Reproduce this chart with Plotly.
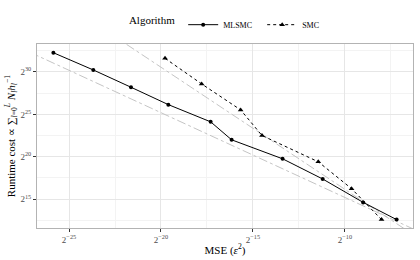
import plotly.graph_objects as go

# log2 values
mlsmc_log2_mse = [-25.85, -23.68, -21.63, -19.60, -17.30, -16.16, -13.39, -11.21, -9.01, -7.19]
mlsmc_log2_cost = [32.27, 30.24, 28.20, 26.15, 24.12, 22.00, 19.76, 17.38, 14.62, 12.59]
smc_log2_mse = [-19.78, -17.79, -15.67, -14.51, -11.45, -9.64, -8.01]
smc_log2_cost = [31.61, 28.59, 25.53, 22.51, 19.41, 16.24, 12.59]

# reference (rate) lines, endpoints in log2 units
refA_x = [-28.0, -5.0]
refA_y = [33.2, 10.2]
refB_x = [-23.5, -5.0]
refB_y = [35.6, 8.96]

xticks = [-25, -20, -15, -10]
yticks = [15, 20, 25, 30]

FONT = "Liberation Serif"
grey = "#bdbdbd"

fig = go.Figure()
fig.add_trace(go.Scatter(x=refA_x, y=refA_y, mode="lines", showlegend=False,
                         line=dict(color=grey, width=0.9, dash="dashdot"), hoverinfo="skip"))
fig.add_trace(go.Scatter(x=refB_x, y=refB_y, mode="lines", showlegend=False,
                         line=dict(color=grey, width=0.9, dash="dashdot"), hoverinfo="skip"))
fig.add_trace(go.Scatter(x=mlsmc_log2_mse, y=mlsmc_log2_cost, mode="lines+markers", name="MLSMC",
                         line=dict(color="black", width=1), marker=dict(symbol="circle", size=4, color="black")))
fig.add_trace(go.Scatter(x=smc_log2_mse, y=smc_log2_cost, mode="lines+markers", name="SMC",
                         line=dict(color="black", width=1, dash="dot"),
                         marker=dict(symbol="triangle-up", size=5, color="black")))

axis_common = dict(showline=True, linecolor="#b3b3b3", linewidth=1, mirror=True,
                   showgrid=True, gridcolor="#e6e6e6", gridwidth=0.6,
                   ticks="outside", ticklen=3, tickcolor="#333333", tickwidth=1,
                   tickfont=dict(family=FONT, size=9, color="#4d4d4d"),
                   zeroline=False, automargin=False,
                   minor=dict(dtick=2.5, tick0=0, showgrid=True, gridcolor="#f3f3f3", gridwidth=0.5, ticks=""))

fig.update_xaxes(**axis_common, range=[-26.74, -6.30], tickvals=xticks,
                 ticktext=[f"2<sup>{t}</sup>".replace("-", "−") for t in xticks],
                 title=dict(text="MSE (<i>ε</i><sup>2</sup>)", font=dict(family=FONT, size=11, color="black"), standoff=2))
fig.update_yaxes(**axis_common, range=[11.6, 33.3], tickvals=yticks,
                 ticktext=[f"2<sup>{t}</sup>" for t in yticks],
                 title=dict(text="Runtime cost ∝ ∑<sub><i>l</i>=0</sub><sup><i>L</i></sup> <i>N</i><sub><i>l</i></sub><i>h</i><sub><i>l</i></sub><sup>−1</sup>",
                            font=dict(family=FONT, size=11, color="black"), standoff=2))

fig.update_layout(
    width=420, height=260,
    margin=dict(l=37, r=7, t=44, b=32, autoexpand=False),
    paper_bgcolor="white", plot_bgcolor="white",
    font=dict(family=FONT, color="black"),
    legend=dict(orientation="h", x=0.525, xanchor="center", y=1.105, yanchor="middle",
                title=dict(text="Algorithm", font=dict(family=FONT, size=11), side="left"),
                font=dict(family=FONT, size=8), itemwidth=30, entrywidth=34, entrywidthmode="pixels",
                tracegroupgap=0, bgcolor="rgba(0,0,0,0)"),
)

fig.write_html("out.html", config={"displayModeBar": False},
               post_script="document.body.style.margin='0';document.body.style.overflow='hidden';")
